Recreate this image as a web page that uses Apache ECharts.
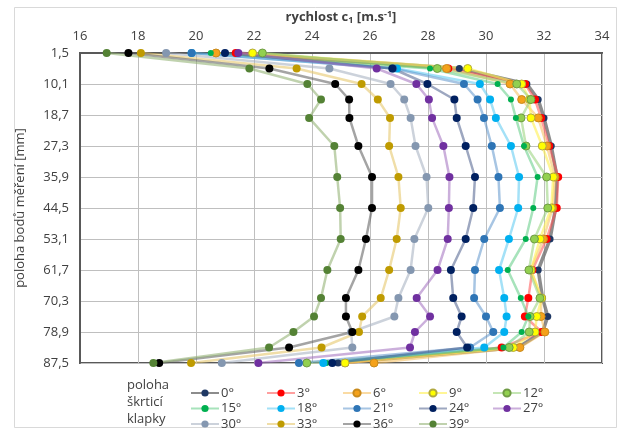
<!DOCTYPE html>
<html>
<head>
<meta charset="utf-8">
<script src="https://cdn.jsdelivr.net/npm/echarts@6/dist/echarts.min.js"></script>
<style>
  html, body { margin: 0; padding: 0; background: #fff; }
  #chart { width: 622px; height: 436px; }
</style>
</head>
<body>
<div id="chart"></div>
<script>
// poloha bodů měření [mm]
const positions = [1.5, 5.8, 10.1, 14.4, 19.5, 27.3, 35.9, 44.5, 53.1, 61.7, 69.5, 74.6, 78.9, 83.2, 87.5];
const xTicks = [16, 18, 20, 22, 24, 26, 28, 30, 32, 34];
const yTicks = [1.5, 10.1, 18.7, 27.3, 35.9, 44.5, 53.1, 61.7, 70.3, 78.9, 87.5];

// rychlost c1 pro jednotlivé polohy klapky
const angles = ["0°", "3°", "6°", "9°", "12°", "15°", "18°", "21°", "24°", "27°", "30°", "33°", "36°", "39°"];
const c0 = [21.4, 29.08, 31.41, 31.8, 32.0, 32.25, 32.45, 32.4, 32.21, 31.8, 31.95, 32.13, 31.95, 31.1, 24.9];
const c3 = [21.37, 28.7, 31.35, 31.69, 31.9, 32.18, 32.49, 32.44, 32.09, 31.6, 31.46, 31.34, 31.92, 30.54, 25.14];
const c6 = [20.69, 28.64, 30.83, 31.23, 31.8, 32.1, 32.38, 32.3, 31.98, 31.55, 31.9, 31.9, 32.03, 31.17, 26.14];
const c9 = [21.95, 29.37, 31.23, 31.5, 31.55, 31.94, 32.32, 32.25, 31.86, 31.55, 31.92, 31.75, 31.69, 30.94, 25.14];
const c12 = [22.29, 28.32, 31.06, 31.55, 31.21, 31.38, 32.09, 32.13, 31.67, 31.48, 31.86, 31.52, 31.49, 30.8, 23.82];
const c15 = [20.51, 28.07, 30.4, 30.86, 31.03, 31.31, 31.78, 31.63, 31.37, 30.75, 31.2, 31.46, 31.23, 30.6, 24.5];
const c18 = [19.85, 26.93, 29.79, 30.14, 30.34, 30.86, 31.14, 31.11, 30.79, 30.45, 30.63, 30.71, 30.63, 29.94, 24.39];
const c21 = [19.85, 26.8, 29.24, 29.71, 29.93, 30.2, 30.43, 30.48, 29.94, 29.62, 29.59, 30.0, 30.25, 29.45, 23.55];
const c24 = [21.0, 26.77, 27.98, 28.91, 28.99, 29.3, 29.62, 29.56, 29.3, 28.79, 28.87, 29.16, 28.99, 29.35, 24.7];
const c27 = [21.46, 26.23, 27.6, 28.03, 28.14, 28.53, 28.74, 28.72, 28.68, 28.33, 27.61, 28.07, 27.55, 27.38, 22.15];
const c30 = [18.97, 24.6, 26.71, 27.18, 27.4, 27.57, 27.95, 28.01, 27.53, 27.4, 26.98, 26.84, 25.35, 25.39, 20.89];
const c33 = [18.1, 23.47, 25.71, 26.27, 26.69, 26.66, 26.98, 27.06, 26.92, 26.66, 26.37, 25.73, 25.62, 24.33, 19.83];
const c36 = [17.67, 22.53, 24.8, 25.28, 25.29, 25.6, 26.07, 26.07, 25.86, 25.6, 25.17, 25.17, 25.39, 23.21, 18.73];
const c39 = [16.92, 21.84, 23.84, 24.31, 23.9, 24.77, 24.87, 24.97, 24.99, 24.53, 24.31, 24.07, 23.36, 22.52, 18.53];

const values = [c0, c3, c6, c9, c12, c15, c18, c21, c24, c27, c30, c33, c36, c39];

// barva značky, barva čáry
const styles = [
  { mark: "#1f3864", line: "rgba(120,120,120,0.85)", width: 3.5, size: 7 },
  { mark: "#ff0000", line: "rgba(255,80,80,0.55)" },
  { mark: "#f5a21b", line: "rgba(245,190,90,0.55)", border: "#c88a1c" },
  { mark: "#ffff00", line: "rgba(255,240,80,0.6)", border: "#b0a840" },
  { mark: "#92d050", line: "rgba(150,210,120,0.55)", border: "#6f9a44" },
  { mark: "#00b050", line: "rgba(80,200,120,0.5)", size: 6 },
  { mark: "#00b0f0", line: "rgba(90,200,240,0.55)" },
  { mark: "#2e75b6", line: "rgba(80,140,200,0.5)" },
  { mark: "#002060", line: "rgba(60,80,130,0.5)" },
  { mark: "#7030a0", line: "rgba(160,110,190,0.55)" },
  { mark: "#8497b0", line: "rgba(170,180,195,0.6)" },
  { mark: "#bf9b00", line: "rgba(230,200,110,0.6)" },
  { mark: "#000000", line: "rgba(90,90,90,0.55)" },
  { mark: "#548235", line: "rgba(150,180,120,0.6)" }
];

const fontName = "Open Sans";
const textColor = "#404040";

const makeSeries = () => {
  return angles.map((name, i) => {
    const st = styles[i];
    return {
      name: name,
      type: "line",
      data: values[i].map((v, k) => [v, positions[k]]),
      symbol: "circle",
      symbolSize: st.size || 8,
      itemStyle: {
        color: st.mark,
        borderColor: st.border || st.mark,
        borderWidth: st.border ? 1 : 0
      },
      lineStyle: { color: st.line, width: st.width || 2.5 },
      emphasis: { disabled: true },
      animation: false
    };
  });
};

// legenda po sloupcích (5 sloupců, 3 řádky)
const legendCols = [190, 266, 342, 418, 492];
const makeLegends = () => {
  return legendCols.map((left, col) => {
    const names = [];
    for (let row = 0; row < 3; row++) {
      const idx = row * 5 + col;
      if (idx < angles.length) names.push(angles[idx]);
    }
    return {
      data: names,
      orient: "vertical",
      left: left,
      top: 386,
      height: 50,
      padding: 0,
      itemWidth: 28,
      itemHeight: 9,
      itemGap: 1.5,
      selectedMode: false,
      textStyle: { fontFamily: fontName, fontSize: 13, lineHeight: 14, color: textColor, padding: [0, 0, 0, -3] }
    };
  });
};

const chart = echarts.init(document.getElementById("chart"));
chart.setOption({
  backgroundColor: "#fff",
  animation: false,
  grid: {
    left: 80,
    right: 20,
    top: 53,
    bottom: 73,
    show: true,
    borderColor: "#595959",
    borderWidth: 2
  },
  xAxis: {
    type: "value",
    position: "top",
    min: xTicks[0],
    max: xTicks[xTicks.length - 1],
    interval: 2,
    name: "rychlost c{sub|1} [m.s{sup|-1}]",
    nameLocation: "middle",
    nameGap: 28,
    nameTextStyle: {
      fontFamily: fontName,
      fontSize: 13,
      fontWeight: "bold",
      color: textColor,
      rich: {
        sub: { fontSize: 9, fontWeight: "bold", verticalAlign: "bottom", padding: [6, 0, 0, 0], fontFamily: fontName, color: textColor },
        sup: { fontSize: 9, fontWeight: "bold", verticalAlign: "top", padding: [0, 0, 6, 0], fontFamily: fontName, color: textColor }
      }
    },
    axisLine: { show: true, lineStyle: { color: "#595959", width: 2 } },
    axisTick: { show: false },
    axisLabel: { fontFamily: fontName, fontSize: 13, color: textColor, margin: 10 },
    splitLine: { show: true, lineStyle: { color: "#bfbfbf", width: 1 } }
  },
  yAxis: {
    type: "value",
    inverse: true,
    min: yTicks[0],
    max: yTicks[yTicks.length - 1],
    interval: 8.6,
    name: "poloha bodů měření [mm]",
    nameLocation: "middle",
    nameGap: 53,
    nameTextStyle: { fontFamily: fontName, fontSize: 13, color: textColor },
    axisLine: { show: true, lineStyle: { color: "#595959", width: 2 } },
    axisTick: { show: false },
    axisLabel: {
      fontFamily: fontName,
      fontSize: 13,
      color: textColor,
      margin: 11,
      formatter: (v) => v.toFixed(1).replace(".", ",")
    },
    splitLine: { show: true, lineStyle: { color: "#bfbfbf", width: 1 } }
  },
  legend: makeLegends(),
  graphic: [
    {
      type: "rect",
      shape: { x: 14.5, y: 7.5, width: 602, height: 420 },
      style: { fill: "none", stroke: "#d9d9d9", lineWidth: 1 },
      silent: true
    },
    {
      type: "text",
      left: 127,
      top: 377,
      style: {
        text: "poloha\nškrticí\nklapky",
        fontFamily: fontName,
        fontSize: 13,
        lineHeight: 17,
        fill: textColor
      }
    }
  ],
  series: makeSeries()
});
</script>
</body>
</html>
